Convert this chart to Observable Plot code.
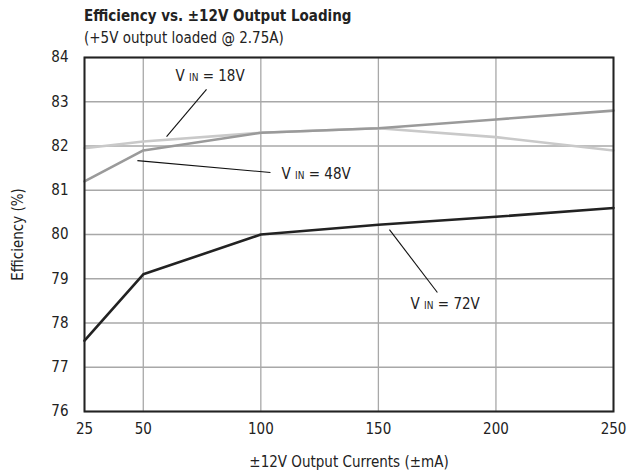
<!DOCTYPE html>
<html><head><meta charset="utf-8">
<script src="https://cdn.jsdelivr.net/npm/d3@7"></script>
<script src="https://cdn.jsdelivr.net/npm/@observablehq/plot@0.6"></script>
<style>
body{margin:0;background:#fff;font-family:"Liberation Sans Narrow","DejaVu Sans Condensed",sans-serif;}
#head{height:40px;position:relative;}
#t1{position:absolute;left:84px;top:7px;font-weight:bold;font-size:15px;color:#222;}
#t2{position:absolute;left:84px;top:29px;font-size:15px;color:#222;}
</style></head><body>
<div id="head"><div id="t1">Efficiency vs. ±12V Output Loading</div><div id="t2">(+5V output loaded @ 2.75A)</div></div>
<div id="chart"></div>
<script>
const currents = [25, 50, 100, 150, 200, 250];
const vin18 = [81.95, 82.1, 82.3, 82.4, 82.2, 81.9];
const vin48 = [81.2, 81.9, 82.3, 82.4, 82.6, 82.8];
const vin72 = [77.6, 79.1, 80.0, 80.22, 80.4, 80.6];
const xTicks = [25, 50, 100, 150, 200, 250];
const yTicks = [76, 77, 78, 79, 80, 81, 82, 83, 84];
const labels = ["V IN = 18V", "V IN = 48V", "V IN = 72V"];
const labelX = [63.7, 108.8, 163.7];
const labelY = [83.57, 81.36, 78.42];
const leaderX1 = [59.9, 47.5, 154.7];
const leaderY1 = [82.21, 81.67, 80.11];
const leaderX2 = [76.9, 104.1, 175.1];
const leaderY2 = [83.28, 81.40, 78.69];

const series = (ys, name) => currents.map((c, i) => ({x: c, y: ys[i], s: name}));
const ann = labels.map((t, i) => ({t, x: labelX[i], y: labelY[i], x1: leaderX1[i], y1: leaderY1[i], x2: leaderX2[i], y2: leaderY2[i]}));

const font = '"Liberation Sans Narrow","DejaVu Sans Condensed",sans-serif';
const plot = Plot.plot({
  width: 635, height: 434,
  marginTop: 17, marginBottom: 63, marginLeft: 84, marginRight: 22,
  style: {fontFamily: font, fontSize: "15px", color: "#222", background: "#fff"},
  x: {domain: [25, 250], ticks: xTicks, tickSize: 0, tickPadding: 12, label: "±12V Output Currents (±mA)", labelAnchor: "center", labelOffset: 55, labelArrow: "none"},
  y: {domain: [76, 84], ticks: yTicks, tickSize: 0, tickPadding: 16, label: "Efficiency (%)", labelAnchor: "center", labelOffset: 72, labelArrow: "none"},
  marks: [
    Plot.gridX(xTicks, {stroke: "#a8a8a8", strokeOpacity: 1, strokeWidth: 1.3}),
    Plot.gridY(yTicks, {stroke: "#a8a8a8", strokeOpacity: 1, strokeWidth: 1.3}),
    Plot.line(series(vin18, "18"), {x: "x", y: "y", stroke: "#c9c9c9", strokeWidth: 2.6}),
    Plot.line(series(vin48, "48"), {x: "x", y: "y", stroke: "#9a9a9a", strokeWidth: 2.6}),
    Plot.line(series(vin72, "72"), {x: "x", y: "y", stroke: "#222", strokeWidth: 2.6}),
    Plot.link(ann, {x1: "x1", y1: "y1", x2: "x2", y2: "y2", stroke: "#111", strokeWidth: 1.1}),
    Plot.text(ann, {x: "x", y: "y", text: "t", textAnchor: "start", fontSize: 15, fill: "#222", className: "vlab"}),
    Plot.frame({stroke: "#222", strokeWidth: 2})
  ]
});
document.getElementById("chart").appendChild(plot);
plot.querySelectorAll("text").forEach(el => {
  if (el.children.length === 0 && /[→↑←↓]/.test(el.textContent)) el.textContent = el.textContent.replace(/\s*[→↑←↓]\s*/g, "");
});
plot.querySelectorAll(".vlab text").forEach(el => {
  const s = el.textContent;
  const m = s.match(/^V IN (.*)$/);
  if (!m) return;
  el.textContent = "";
  const ns = "http://www.w3.org/2000/svg";
  const a = document.createElementNS(ns, "tspan"); a.textContent = "V "; el.appendChild(a);
  const b = document.createElementNS(ns, "tspan"); b.textContent = "IN"; b.setAttribute("font-size", "10"); el.appendChild(b);
  const c = document.createElementNS(ns, "tspan"); c.textContent = " " + m[1]; el.appendChild(c);
});
</script></body></html>
